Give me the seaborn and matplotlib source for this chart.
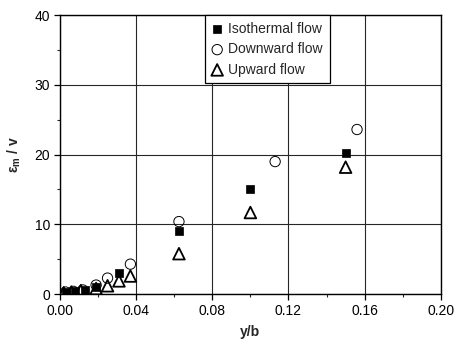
import matplotlib
matplotlib.use("Agg")
import matplotlib.pyplot as plt
from matplotlib.ticker import MultipleLocator
import seaborn as sns
import pandas as pd

# Eddy viscosity ratio vs. distance from the wall
iso_x = [0.003, 0.008, 0.013, 0.019, 0.031, 0.0625, 0.100, 0.150]
iso_y = [0.3, 0.4, 0.6, 1.0, 3.1, 9.0, 15.1, 20.2]

down_x = [0.003, 0.007, 0.012, 0.019, 0.025, 0.037, 0.0625, 0.113, 0.156]
down_y = [0.3, 0.4, 0.6, 1.3, 2.3, 4.3, 10.4, 19.0, 23.6]

up_x = [0.002, 0.006, 0.011, 0.019, 0.025, 0.031, 0.037, 0.0625, 0.100, 0.150]
up_y = [0.2, 0.3, 0.5, 0.8, 1.2, 1.9, 2.6, 5.8, 11.7, 18.2]

labels = ["Isothermal flow", "Downward flow", "Upward flow"]
x_ticks = [0.00, 0.04, 0.08, 0.12, 0.16, 0.20]
y_ticks = [0, 10, 20, 30, 40]

sns.set_theme(style="ticks")
plt.rcParams["font.family"] = ["Liberation Sans", "DejaVu Sans"]
plt.rcParams["mathtext.fontset"] = "custom"
plt.rcParams["mathtext.rm"] = "Liberation Sans:bold"
plt.rcParams["mathtext.it"] = "Liberation Sans:bold"
plt.rcParams["mathtext.bf"] = "Liberation Sans:bold"

fig = plt.figure(figsize=(4.54, 3.51), dpi=100)
ax = fig.add_axes([0.132, 0.162, 0.839, 0.795])

iso = pd.DataFrame({"x": iso_x, "y": iso_y})
down = pd.DataFrame({"x": down_x, "y": down_y})
up = pd.DataFrame({"x": up_x, "y": up_y})

sizes = [40, 55, 70]
sns.scatterplot(data=iso, x="x", y="y", marker="s", s=sizes[0], color="black",
                edgecolor="black", linewidth=0.5, label=labels[0], ax=ax, zorder=3)
sns.scatterplot(data=down, x="x", y="y", marker="o", s=sizes[1], facecolor="none",
                edgecolor="black", linewidth=0.7, label=labels[1], ax=ax, zorder=3)
sns.scatterplot(data=up, x="x", y="y", marker="^", s=sizes[2], facecolor="none",
                edgecolor="black", linewidth=1.3, label=labels[2], ax=ax, zorder=3)

ax.set_xlim(0, 0.20)
ax.set_ylim(0, 40)
ax.set_xticks(x_ticks)
ax.set_xticklabels([f"{v:.2f}" for v in x_ticks])
ax.set_yticks(y_ticks)
ax.xaxis.set_minor_locator(MultipleLocator(0.02))
ax.yaxis.set_minor_locator(MultipleLocator(5))
ax.grid(True, which="major", color="0.15", linewidth=0.8)
ax.tick_params(axis="both", which="major", direction="out", length=4,
               width=0.9, labelsize=10, colors="black", pad=3)
ax.tick_params(axis="both", which="minor", direction="out", length=2.5, width=0.8)

for side in ["top", "right", "bottom", "left"]:
    ax.spines[side].set_visible(True)
    ax.spines[side].set_color("black")
    ax.spines[side].set_linewidth(1.0)

ax.set_xlabel("y/b", fontsize=10, fontweight="bold", labelpad=5)
ax.set_ylabel(r"ε$_{\mathbf{m}}$ / v", fontsize=10, fontweight="bold", labelpad=8)

leg = ax.legend(loc="upper left", bbox_to_anchor=(0.38, 1.0), frameon=True,
                fancybox=False, edgecolor="black", framealpha=1, fontsize=10,
                borderpad=0.5, labelspacing=0.45, handletextpad=0.4,
                borderaxespad=0, handlelength=0.8)
leg.get_frame().set_linewidth(0.9)
for handle, size in zip(leg.legend_handles, sizes):
    handle.set_sizes([size])

fig.savefig("out.png", dpi=100)
